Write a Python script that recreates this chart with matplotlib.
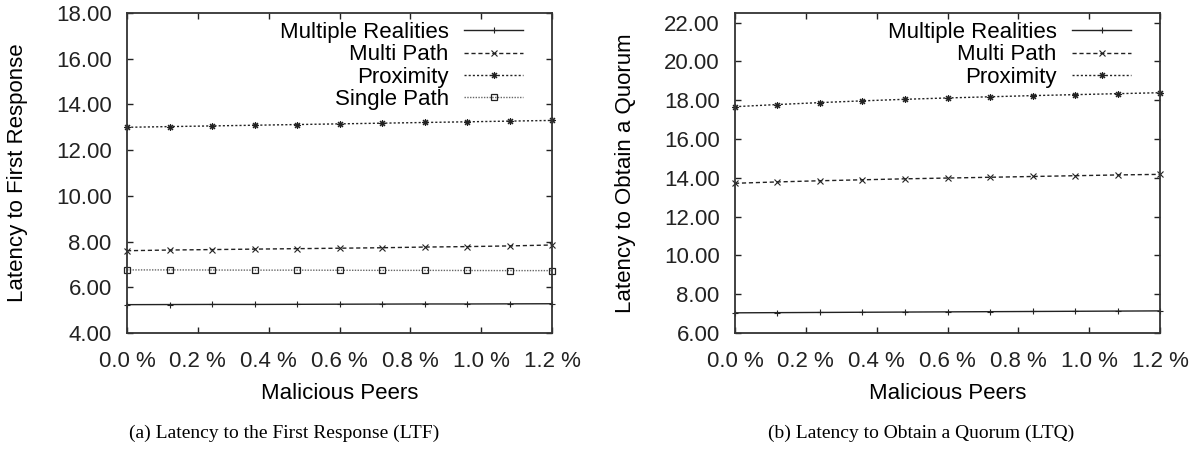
import numpy as np
import matplotlib.pyplot as plt

# malicious peers (%)
peers = [0.0, 0.12, 0.24, 0.36, 0.48, 0.60, 0.72, 0.84, 0.96, 1.08, 1.20]

# (a) latency to the first response
ltf_multi_real = [5.24, 5.245, 5.25, 5.25, 5.255, 5.26, 5.265, 5.27, 5.27, 5.275, 5.28]
ltf_multi_path = [7.60, 7.63, 7.65, 7.67, 7.69, 7.71, 7.73, 7.76, 7.78, 7.81, 7.85]
ltf_proximity = [13.00, 13.03, 13.06, 13.09, 13.12, 13.15, 13.18, 13.21, 13.24, 13.27, 13.30]
ltf_single_path = [6.76, 6.76, 6.755, 6.75, 6.75, 6.745, 6.74, 6.74, 6.735, 6.73, 6.73]

# (b) latency to obtain a quorum
ltq_multi_real = [7.04, 7.05, 7.06, 7.07, 7.08, 7.09, 7.10, 7.11, 7.12, 7.13, 7.14]
ltq_multi_path = [13.72, 13.79, 13.85, 13.90, 13.95, 13.99, 14.03, 14.07, 14.11, 14.15, 14.18]
ltq_proximity = [17.67, 17.78, 17.88, 17.97, 18.05, 18.12, 18.18, 18.24, 18.29, 18.34, 18.39]

xticks = [0.0, 0.2, 0.4, 0.6, 0.8, 1.0, 1.2]

plt.rcParams['font.family'] = ['Liberation Sans', 'DejaVu Sans']
fs = 16
dark = '#222222'

fig = plt.figure(figsize=(11.94, 4.55), dpi=100)
ax1 = fig.add_axes([127/1194, 1-333/455, 425/1194, 320/455])
ax2 = fig.add_axes([735/1194, 1-333/455, 425/1194, 320/455])

def style(ax, ylo, yhi, ytop, ylabel):
    ax.set_xlim(0, 1.2)
    ax.set_ylim(ylo, yhi)
    ax.set_xticks(xticks)
    ax.set_xticklabels(['%.1f %%' % t for t in xticks])
    yt = np.arange(ylo, ytop + 0.1, 2)
    ax.set_yticks(yt)
    ax.set_yticklabels(['%.2f' % t for t in yt])
    ax.tick_params(direction='in', length=4, width=1, top=True, right=True,
                   labelsize=fs, colors=dark)
    ax.tick_params(axis='x', pad=13)
    ax.tick_params(axis='y', pad=11)
    for s in ax.spines.values():
        s.set_linewidth(1.3)
        s.set_color('#333333')
    ax.set_xlabel('Malicious Peers', fontsize=fs, labelpad=8)
    ax.set_ylabel(ylabel, fontsize=fs)
    ax.yaxis.set_label_coords(-0.232, 0.5)

kw_mr = dict(color=dark, lw=1.0, ls='-', marker='+', ms=5, mew=0.8)
kw_mp = dict(color=dark, lw=1.0, ls=(0, (3, 2)), marker='x', ms=4.5, mew=0.8)
kw_px = dict(color=dark, lw=1.0, ls=(0, (1.5, 1.5)), marker=(8, 2, 0), ms=5, mew=0.8)
kw_sp = dict(color='#666666', lw=1.0, ls=(0, (1, 1)), marker='s', ms=5, mew=0.9,
             mfc='none', mec=dark)

ax1.plot(peers, ltf_multi_real, label='Multiple Realities', **kw_mr)
ax1.plot(peers, ltf_multi_path, label='Multi Path', **kw_mp)
ax1.plot(peers, ltf_proximity, label='Proximity', **kw_px)
ax1.plot(peers, ltf_single_path, label='Single Path', **kw_sp)
style(ax1, 4, 18, 18, 'Latency to First Response')

ax2.plot(peers, ltq_multi_real, label='Multiple Realities', **kw_mr)
ax2.plot(peers, ltq_multi_path, label='Multi Path', **kw_mp)
ax2.plot(peers, ltq_proximity, label='Proximity', **kw_px)
style(ax2, 6, 22.5, 22, 'Latency to Obtain a Quorum')

for ax in (ax1, ax2):
    for line in ax.lines:
        line.set_clip_on(False)
    ax.legend(loc='upper right', bbox_to_anchor=(0.932, 0.972), frameon=False,
              markerfirst=False, numpoints=1, fontsize=fs, handlelength=2.65,
              handletextpad=0.7, labelspacing=0.06, borderpad=0, borderaxespad=0)

cap = dict(fontsize=14, family=['Liberation Serif', 'DejaVu Serif'], ha='center', va='center')
fig.text(284/1194, 1-433/455, '(a) Latency to the First Response (LTF)', **cap)
fig.text(921/1194, 1-433/455, '(b) Latency to Obtain a Quorum (LTQ)', **cap)

fig.savefig('out.png', dpi=100)
